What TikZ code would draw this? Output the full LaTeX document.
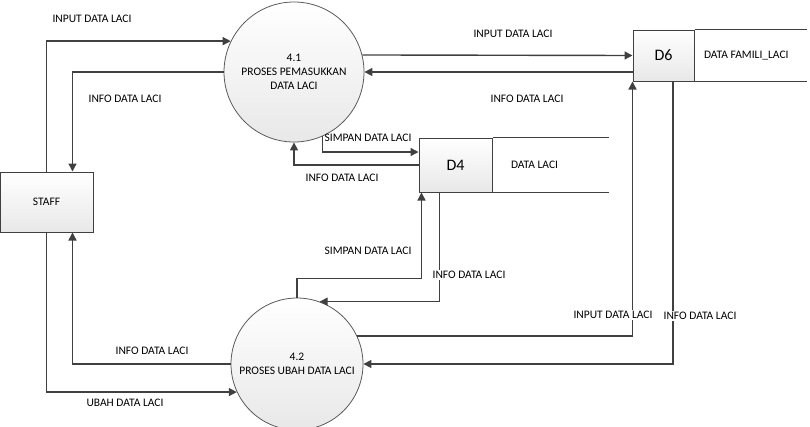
\documentclass[tikz,border=0pt]{standalone}
\usepackage{fontspec}
\setmainfont{Carlito}
\usetikzlibrary{arrows.meta,positioning}
\tikzset{
  flow/.style={draw=black!75, line width=1.4pt, -{Triangle[length=8pt,width=8pt]}},
  proc/.style={circle, draw=black!65, line width=0.8pt, top color=white, bottom color=black!9, align=center, inner sep=0pt},
  entity/.style={rectangle, draw=black!75, line width=1pt, top color=white, bottom color=black!9},
  storeid/.style={rectangle, draw=black!75, line width=1pt, top color=white, bottom color=black!9, font=\fontsize{16}{18}\selectfont},
  lbl/.style={inner sep=1pt},
  lblw/.style={inner sep=1pt, fill=white}
}
\begin{document}
\begin{tikzpicture}[x=1pt, y=-1pt, every node/.style={font=\fontsize{11.5}{14}\selectfont}]
  \useasboundingbox (0,0) rectangle (810,426);
  % processes and entity
  \node[proc, minimum size=140pt] (p41) at (294,72) {4.1\\PROSES PEMASUKKAN\\DATA LACI};
  \node[proc, minimum size=132pt] (p42) at (297,364) {4.2\\PROSES UBAH DATA LACI};
  \node[entity, minimum width=93pt, minimum height=60pt] (staff) at (46.5,202) {STAFF};
  % data stores
  \node[storeid, minimum width=61pt, minimum height=51pt] (d6) at (663.5,55.5) {D6};
  \draw[black!75, line width=1pt] (d6.north east) -- ++(112,0) (d6.south east) -- ++(112,0);
  \node[right=6pt of d6] (d6name) {DATA FAMILI\_LACI};
  \node[storeid, minimum width=73pt, minimum height=54pt] (d4) at (455.5,165) {D4};
  \draw[black!75, line width=1pt] (d4.north east) -- ++(116,0) (d4.south east) -- ++(116,0);
  \node[right=15pt of d4] (d4name) {DATA LACI};
  % flows between staff and processes
  \draw[flow] (staff.north) |- (p41.154);
  \draw[flow] (p41.west) -| ([xshift=26pt]staff.north);
  \draw[flow] (p42.west) -| ([xshift=26pt]staff.south);
  \draw[flow] (staff.south) |- (p42.205);
  % flows of process 4.1
  \draw[flow] (p41.14) -- (d6.west);
  \draw[flow] (p41.east -| d6.west) -- (p41.east);
  \draw[flow] (p41.-66) |- ([yshift=13pt]d4.west);
  \draw[flow] (d4.west) -| (p41.south);
  % flows of process 4.2
  \draw[flow] (p42.north) -- ++(0,-19) -| ([xshift=3pt]d4.south west);
  \draw[flow] ([xshift=21pt]d4.south west) |- (p42.70);
  \draw[flow] (p42.25) -| (d6.south west);
  \draw[flow] ([xshift=9.5pt]d6.south) |- (p42.east);
  % labels
  \node[lbl] (l1) at (92,19) {INPUT DATA LACI};
  \node[lbl] (l2) at (125,99) {INFO DATA LACI};
  \node[lbl] (l3) at (513,34) {INPUT DATA LACI};
  \node[lbl] (l4) at (527,99) {INFO DATA LACI};
  \node[lbl] (l5) at (368,138) {SIMPAN DATA LACI};
  \node[lbl] (l6) at (342,178) {INFO DATA LACI};
  \node[lbl] (l7) at (368,251) {SIMPAN DATA LACI};
  \node[lblw] (l8) at (469,275) {INFO DATA LACI};
  \node[lblw] (l9) at (613,315) {INPUT DATA LACI};
  \node[lblw] (l10) at (700,316) {INFO DATA LACI};
  \node[lbl] (l11) at (152,351) {INFO DATA LACI};
  \node[lbl] (l12) at (125,403) {UBAH DATA LACI};
\end{tikzpicture}
\end{document}
